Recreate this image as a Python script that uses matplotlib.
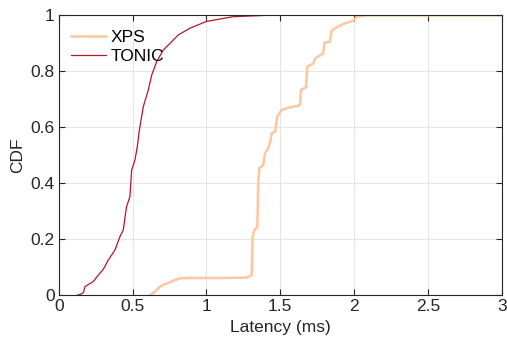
import matplotlib
matplotlib.use("Agg")
import matplotlib.pyplot as plt

plt.rcParams['font.family'] = ['Liberation Sans', 'DejaVu Sans']

# TONIC latency CDF (ms, fraction)
tonic_x = [0.122, 0.150, 0.167, 0.178, 0.205, 0.234, 0.268, 0.302, 0.336, 0.360, 0.381,
           0.414, 0.437, 0.459, 0.482, 0.494, 0.516, 0.532, 0.546, 0.573, 0.607, 0.630,
           0.663, 0.708, 0.754, 0.810, 0.889, 1.000, 1.180, 1.410, 3.000]
tonic_y = [0.000, 0.004, 0.010, 0.031, 0.040, 0.049, 0.072, 0.093, 0.126, 0.145, 0.162,
           0.209, 0.233, 0.316, 0.352, 0.447, 0.483, 0.530, 0.590, 0.674, 0.734, 0.787,
           0.834, 0.876, 0.900, 0.930, 0.954, 0.978, 0.995, 1.000, 1.000]

# XPS latency CDF (ms, fraction)
xps_x = [0.618, 0.652, 0.686, 0.720, 0.776, 0.821, 0.900, 1.100, 1.273, 1.307, 1.313,
         1.329, 1.345, 1.351, 1.358, 1.385, 1.397, 1.419, 1.435, 1.442, 1.465, 1.480,
         1.510, 1.555, 1.634, 1.640, 1.675, 1.683, 1.724, 1.736, 1.790, 1.800, 1.837,
         1.848, 1.882, 1.927, 1.995, 2.018, 2.085, 3.000]
xps_y = [0.000, 0.013, 0.031, 0.040, 0.052, 0.061, 0.062, 0.062, 0.063, 0.072, 0.209,
         0.236, 0.243, 0.400, 0.454, 0.465, 0.507, 0.525, 0.555, 0.579, 0.584, 0.638,
         0.662, 0.670, 0.679, 0.733, 0.743, 0.816, 0.828, 0.846, 0.864, 0.902, 0.906,
         0.945, 0.957, 0.969, 0.981, 0.995, 1.000, 1.000]

fig = plt.figure(figsize=(5.07, 3.48), dpi=100)
ax = fig.add_axes([0.1158, 0.1514, 0.8737, 0.8046])

ax.plot(xps_x, xps_y, color='#fdc79f', lw=1.8, label='XPS')
ax.plot(tonic_x, tonic_y, color='#b2182b', lw=0.9, label='TONIC')

ax.set_xlim(0, 3)
ax.set_ylim(0, 1)
ax.set_xticks([0, 0.5, 1, 1.5, 2, 2.5, 3])
ax.set_xticklabels(['0', '0.5', '1', '1.5', '2', '2.5', '3'])
ax.set_yticks([0, 0.2, 0.4, 0.6, 0.8, 1])
ax.set_yticklabels(['0', '0.2', '0.4', '0.6', '0.8', '1'])
ax.tick_params(direction='in', top=True, right=True, labelsize=12.5, colors='#262626',
               length=4, width=0.8, pad=3)
ax.grid(True, color='#e6e6e6', lw=0.8)
ax.set_axisbelow(True)
for s in ax.spines.values():
    s.set_color('#262626')
    s.set_linewidth(0.8)

ax.set_xlabel('Latency (ms)', fontsize=12.5, color='#262626', labelpad=4)
ax.set_ylabel('CDF', fontsize=12.5, color='#262626', labelpad=4)
ax.legend(loc='upper left', frameon=False, fontsize=12.5, handlelength=2.0,
          handletextpad=0.3, labelspacing=0.2, borderaxespad=0.3,
          bbox_to_anchor=(0.0, 0.99))

fig.savefig('out.png', dpi=100)
